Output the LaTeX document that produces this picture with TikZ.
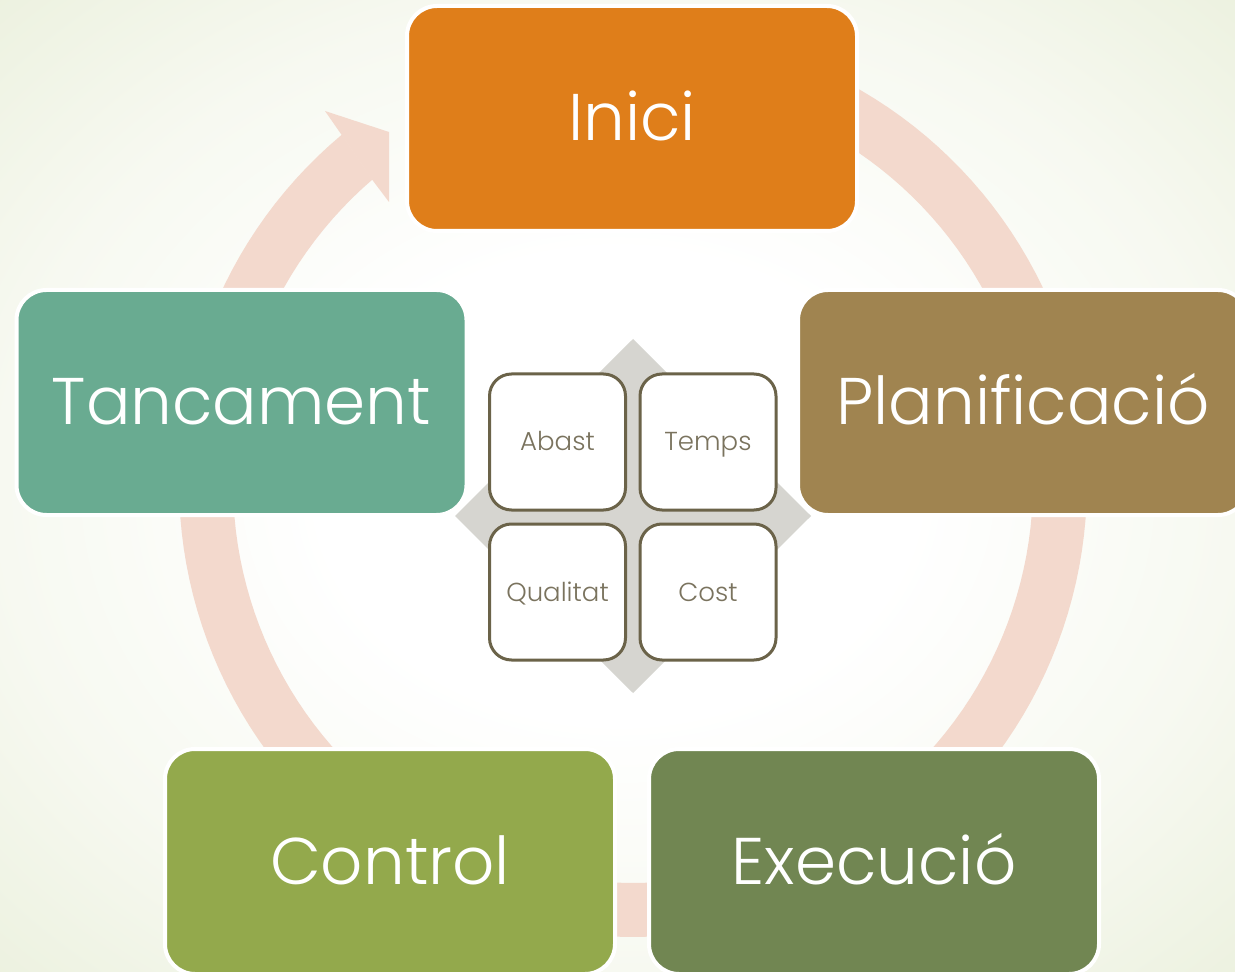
\documentclass[tikz,border=0pt]{standalone}
\usepackage{fontspec}
\setmainfont{Poppins Light}
\definecolor{cInici}{HTML}{DF7E1A}
\definecolor{cPlan}{HTML}{A08450}
\definecolor{cTanc}{HTML}{69AB91}
\definecolor{cCtrl}{HTML}{93A94C}
\definecolor{cExec}{HTML}{718652}
\definecolor{ringc}{HTML}{F3D9CD}
\definecolor{diamc}{HTML}{D6D5D0}
\definecolor{sqborder}{HTML}{6B6349}
\definecolor{sqtext}{HTML}{7A735E}
\definecolor{bgmid}{HTML}{F7F9F1}
\definecolor{bgout}{HTML}{ECF1DF}
\pgfdeclareradialshading{bgshade}{\pgfpoint{0bp}{0bp}}{color(0bp)=(white); color(12bp)=(white); color(25bp)=(bgmid); color(36bp)=(bgout); color(50bp)=(bgout)}
\begin{document}
\begin{tikzpicture}[x=0.5pt,y=-0.5pt,
  phase/.style={rectangle, rounded corners=15pt, draw=white, line width=2pt,
    minimum width=225pt, minimum height=112.5pt, text=white,
    font=\fontsize{33}{40}\selectfont, text height=22.5pt, text depth=0pt, inner sep=0pt},
  facet/.style={rectangle, rounded corners=11pt, draw=sqborder, fill=white, line width=1.5pt,
    minimum width=68pt, minimum height=68pt, text=sqtext,
    font=\fontsize{13}{15}\selectfont, text height=9pt, text depth=0pt, inner sep=0pt},
  ringfill/.style={fill=ringc, draw=none}]
\useasboundingbox (0,0) rectangle (1235,972);
\clip (0,0) rectangle (1235,972);
\shade[shading=bgshade] (0,0) rectangle (1235,972);
% cycle ring with arrow head
\fill[ringfill] plot[domain=230.1:-90, samples=160] ({633+454*cos(\x)},{483+454*sin(\x)})
  -- plot[domain=-90:229.35, samples=160] ({633+400*cos(\x)},{483+400*sin(\x)}) -- cycle;
\fill[ringfill] (325,111) -- (389,132) -- (389,202) -- (372,179.5) -- (341,134) -- cycle;
% phases
\node[phase, fill=cInici] (inici) at (632,118.5) {Inici};
\node[phase, fill=cTanc] (tanc) at (241.5,402.5) {Tancament};
\node[phase, fill=cPlan] (plan) at (1023,402.5) {Planificació};
\node[phase, fill=cCtrl] (ctrl) at (390,861.5) {Control};
\node[phase, fill=cExec] (exec) at (874,861.5) {Execució};
% centre diamond
\fill[diamc] (633,339) -- (811,516) -- (633,693) -- (455,516) -- cycle;
\node[facet] (abast) at (557.5,442) {Abast};
\node[facet] (temps) at (708,442) {Temps};
\node[facet] (qual) at (557.5,592) {Qualitat};
\node[facet] (cost) at (708,592) {Cost};
\end{tikzpicture}
\end{document}
